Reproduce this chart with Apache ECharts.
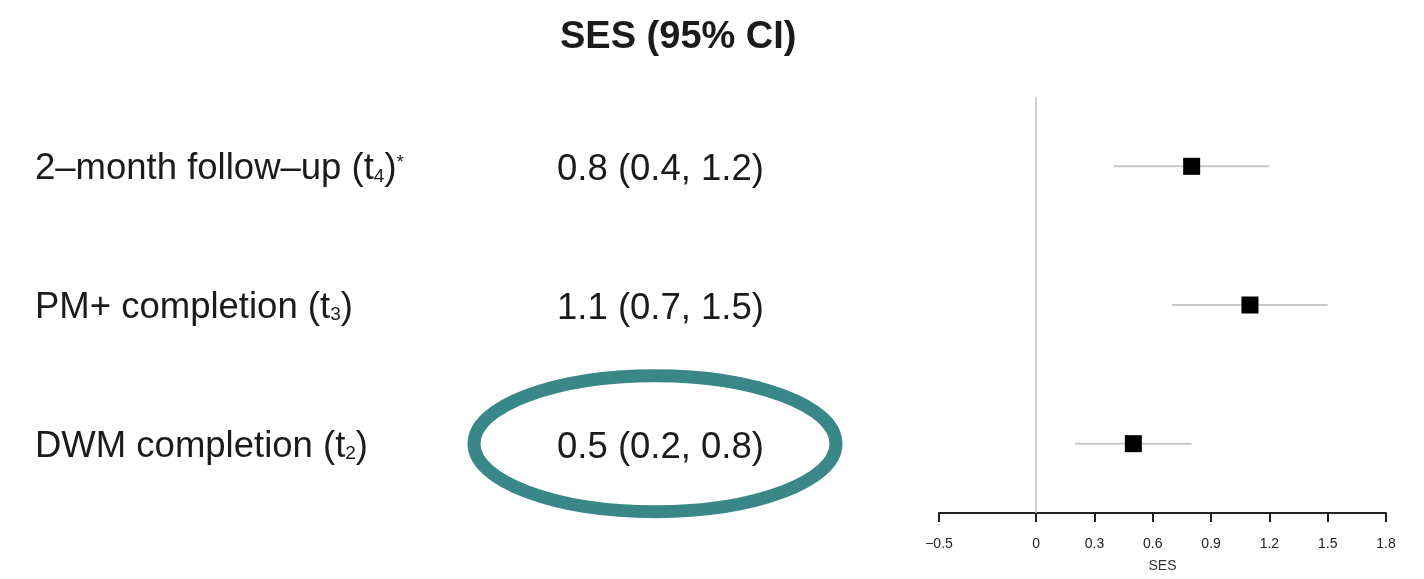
<!DOCTYPE html>
<html>
<head>
<meta charset="utf-8">
<script src="https://cdn.jsdelivr.net/npm/echarts@6/dist/echarts.min.js"></script>
<style>
  html, body { margin: 0; padding: 0; background: #fff; }
  #chart { width: 1424px; height: 579px; }
</style>
</head>
<body>
<div id="chart"></div>
<script>
// Time points, bottom row first (category axis runs upward)
const timepoints = ['DWM completion (t2)', 'PM+ completion (t3)', '2-month follow-up (t4)*'];
// Rich-text versions of the row labels (subscript time index, superscript asterisk)
const rowLabels = [
  'DWM completion (t{sub|2})',
  'PM+ completion (t{sub|3})',
  '2\u2013month follow\u2013up (t{sub|4}){sup|*}'
];
// Standardised effect size and 95% CI bounds
const ses = [0.5, 1.1, 0.8];
const ciLow = [0.2, 0.7, 0.4];
const ciHigh = [0.8, 1.5, 1.2];
// Tick positions on the SES axis
const sesTicks = [-0.5, 0, 0.3, 0.6, 0.9, 1.2, 1.5, 1.8];

const fmt = v => v.toFixed(1);
const ciText = ses.map((v, i) => `${fmt(v)} (${fmt(ciLow[i])}, ${fmt(ciHigh[i])})`);

const FONT = '"Liberation Sans", Arial, Helvetica, sans-serif';
const TEXT = '#1b1b1b';
const gridLeft = 939;

const chart = echarts.init(document.getElementById('chart'));

const option = {
  backgroundColor: '#fff',
  animation: false,
  textStyle: { fontFamily: FONT },
  title: {
    text: 'SES (95% CI)',
    left: 555,
    top: 14,
    textStyle: { fontFamily: FONT, fontSize: 38, fontWeight: 'bold', color: TEXT }
  },
  grid: { left: gridLeft, right: 38, top: 97, bottom: 66 },
  xAxis: {
    type: 'value',
    min: -0.5,
    max: 1.8,
    name: 'SES',
    nameLocation: 'middle',
    nameGap: 46,
    nameTextStyle: { fontFamily: FONT, fontSize: 14, color: '#333' },
    splitLine: { show: false },
    axisLine: { show: true, lineStyle: { color: '#222', width: 2 } },
    axisTick: { show: true, length: 9, lineStyle: { color: '#222', width: 2 }, customValues: sesTicks },
    axisLabel: {
      fontFamily: FONT, fontSize: 14, color: '#222', margin: 24,
      customValues: sesTicks,
      formatter: v => (v === 0 ? '0' : (v < 0 ? '\u2212' + Math.abs(v).toFixed(1) : v.toFixed(1)))
    }
  },
  yAxis: [
    {
      type: 'category',
      data: timepoints,
      axisLine: { show: false },
      axisTick: { show: false },
      splitLine: { show: false },
      axisLabel: {
        align: 'left',
        margin: gridLeft - 35,
        formatter: (v, i) => rowLabels[i],
        rich: {
          sub: { fontFamily: FONT, fontSize: 19, color: TEXT, padding: [14, 0, 0, 0] },
          sup: { fontFamily: FONT, fontSize: 19, color: TEXT, padding: [0, 0, 14, 0] }
        },
        fontFamily: FONT, fontSize: 36.5, color: TEXT, padding: [6, 0, 0, 0]
      }
    },
    {
      type: 'category',
      data: timepoints,
      position: 'left',
      axisLine: { show: false },
      axisTick: { show: false },
      splitLine: { show: false },
      axisLabel: {
        align: 'left',
        margin: gridLeft - 557,
        formatter: (v, i) => '{v|' + ciText[i] + '}',
        rich: {
          v: { fontFamily: FONT, fontSize: 36.5, color: TEXT, padding: [8, 0, 0, 0] }
        },
        fontFamily: FONT, fontSize: 36.5, color: TEXT
      }
    }
  ],
  series: [
    {
      // confidence interval whiskers
      type: 'custom',
      renderItem: (params, api) => {
        const lo = api.coord([api.value(1), api.value(0)]);
        const hi = api.coord([api.value(2), api.value(0)]);
        return {
          type: 'line',
          shape: { x1: lo[0], y1: lo[1], x2: hi[0], y2: hi[1] },
          style: { stroke: '#c8c8c8', lineWidth: 2 }
        };
      },
      encode: { x: [1, 2], y: 0 },
      data: timepoints.map((t, i) => [i, ciLow[i], ciHigh[i]]),
      z: 2
    },
    {
      // point estimates
      type: 'scatter',
      symbol: 'rect',
      symbolSize: 17,
      itemStyle: { color: '#000', opacity: 1 },
      data: ses.map((v, i) => [v, i]),
      z: 3,
      markLine: {
        silent: true,
        symbol: 'none',
        label: { show: false },
        lineStyle: { color: '#c4c4c4', width: 1.5, type: 'solid' },
        data: [{ xAxis: 0 }]
      }
    }
  ]
};

chart.setOption(option);

// Highlight ring around the DWM completion estimate text
const rowY = chart.convertToPixel({ yAxisIndex: 1 }, timepoints[0]);
chart.setOption({
  graphic: [{
    type: 'ellipse',
    shape: { cx: 655, cy: rowY, rx: 181, ry: 68 },
    style: { fill: 'none', stroke: '#3a8788', lineWidth: 13 },
    z: 10
  }]
});
</script>
</body>
</html>
